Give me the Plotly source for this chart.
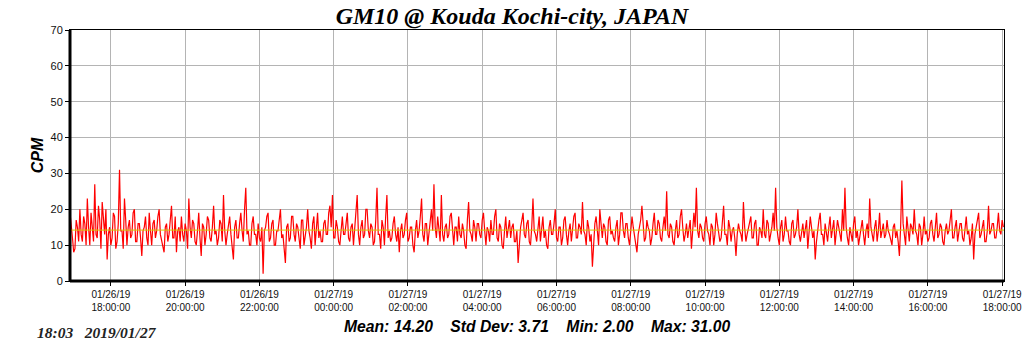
import pandas as pd
import plotly.graph_objects as go

TITLE = "GM10 @ Kouda Kochi-city, JAPAN"
START = "2019-01-26 16:54"
STEP = "2min"
cpm = [
    19,14,12,8,9,17,15,11,20,13,11,18,16,10,23,15,10,19,14,11,27,13,12,21,17,9,22,16,13,20,
    6,13,15,10,12,19,18,9,11,16,31,14,14,9,23,17,10,15,17,12,13,19,20,11,11,16,16,12,7,14,
    15,18,12,10,19,14,10,16,17,12,14,18,20,13,11,9,8,15,16,11,13,17,21,12,12,18,8,14,15,11,
    18,13,11,16,14,9,23,15,12,17,16,11,10,14,19,12,7,16,15,10,13,18,17,12,11,15,21,13,14,10,
    12,17,16,11,24,14,10,13,15,18,13,9,6,15,17,12,12,16,19,14,11,20,26,13,14,10,10,16,18,13,
    13,10,16,12,11,15,2,14,15,18,19,11,12,16,17,10,10,14,14,17,20,12,13,9,5,15,16,11,12,18,
    18,13,11,16,15,12,9,17,17,10,13,15,20,14,12,9,16,18,10,14,19,12,14,11,11,16,17,13,13,19,
    21,15,24,12,12,17,15,11,10,14,18,13,13,16,19,12,11,15,16,10,14,18,24,13,10,15,17,12,13,20,
    20,14,12,16,15,10,11,17,26,13,13,9,17,15,10,18,24,12,14,11,12,16,18,13,11,15,8,14,16,12,
    13,17,19,11,12,15,15,10,8,14,17,12,14,18,23,13,11,16,16,10,13,17,20,14,27,15,12,18,15,11,
    24,13,11,15,16,12,13,18,19,14,10,15,15,11,18,13,12,16,14,10,9,17,22,14,13,11,17,15,11,16,
    16,13,12,17,19,14,10,15,14,11,17,13,13,18,20,12,11,16,15,10,9,14,18,12,14,17,12,15,16,11,
    11,14,5,12,15,17,19,13,12,16,17,11,10,15,23,14,13,11,16,18,11,14,18,12,14,10,9,15,17,13,
    13,16,20,12,11,15,15,10,12,17,18,13,10,14,16,11,14,18,19,12,12,16,15,13,22,14,13,10,17,15,
    11,13,4,12,16,18,13,10,20,15,12,16,15,11,10,17,18,13,14,12,11,15,17,10,13,19,19,14,12,16,
    16,12,10,14,18,15,13,11,8,13,15,17,21,14,11,12,17,15,14,10,12,16,19,13,13,17,16,12,11,15,
    18,14,25,13,12,16,15,11,10,14,17,12,13,18,20,15,11,13,16,12,14,17,9,13,19,15,26,14,12,16,
    15,12,11,16,18,14,13,10,16,15,10,13,19,16,14,11,12,17,21,13,13,10,17,15,11,14,15,12,7,13,
    16,14,13,11,22,15,11,13,15,17,18,12,12,16,17,10,10,15,14,12,20,13,12,17,16,11,13,15,19,14,
    26,15,12,10,15,17,11,13,18,14,14,11,10,16,17,12,13,15,20,13,11,14,16,12,14,17,9,13,18,15,
    12,14,6,11,15,17,19,13,13,10,16,14,11,15,18,12,14,17,10,13,17,15,13,11,20,14,26,15,12,10,
    15,13,11,16,18,12,14,10,12,15,17,13,10,14,16,12,23,15,13,11,15,17,11,14,19,12,14,16,12,13,
    17,14,13,11,10,15,16,12,14,11,7,15,28,16,12,10,18,14,11,16,15,13,20,14,13,10,16,15,10,13,
    18,13,14,11,12,16,17,13,11,15,19,12,13,16,15,11,10,14,16,13,14,17,20,12,12,15,17,11,13,16,
    16,12,11,15,18,13,14,10,12,16,6,13,15,17,19,12,13,15,17,11,11,14,21,13,14,16,16,12,12,15,
    19,14,13,17,15,
]
MEAN = 14.20
STD = 3.71
MIN = 2.00
MAX = 31.00
STAMP = "18:03   2019/01/27"
X_RANGE = ["2019-01-26 16:54", "2019-01-27 18:03"]
Y_RANGE = [0, 70]

times = pd.date_range(START, periods=len(cpm), freq=STEP)

fig = go.Figure()
fig.add_trace(go.Scatter(x=times, y=cpm, mode="lines",
                         line=dict(color="#ff0000", width=1.2), hoverinfo="skip"))
fig.add_trace(go.Scatter(x=X_RANGE, y=[MEAN, MEAN], mode="lines",
                         line=dict(color="#d8c400", width=1), hoverinfo="skip"))

fig.update_layout(
    width=1024, height=351,
    margin=dict(l=70, r=20, t=30, b=70, autoexpand=False),
    paper_bgcolor="white", plot_bgcolor="white",
    showlegend=False,
    title=dict(text="<b><i>" + TITLE + "</i></b>", x=0.5, xanchor="center",
               y=0.955, yanchor="middle",
               font=dict(family="Liberation Serif", size=24, color="black")),
    xaxis=dict(type="date", range=X_RANGE, dtick=7200000, tick0="2019-01-26 18:00",
               tickformat="%m/%d/%y<br>%H:%M:%S", ticks="outside", ticklen=4,
               tickcolor="black", showgrid=True, gridcolor="#b4b4b4", gridwidth=1,
               showline=True, linecolor="black", linewidth=1, mirror=True,
               automargin=False,
               tickfont=dict(family="Liberation Sans", size=10, color="#111")),
    yaxis=dict(range=Y_RANGE, dtick=10, ticks="outside", ticklen=4, tickcolor="black",
               showgrid=True, gridcolor="#b4b4b4", gridwidth=1,
               showline=True, linecolor="black", linewidth=1, mirror=True,
               zeroline=False, automargin=False,
               tickfont=dict(family="Liberation Sans", size=11, color="#111"),
               title=dict(text="<b><i>CPM</i></b>", standoff=2,
                          font=dict(family="Liberation Sans", size=16, color="black"))),
)

# thicker left and bottom frame lines
fig.add_shape(type="line", xref="paper", yref="paper", x0=0, x1=0, y0=0, y1=1,
              line=dict(color="black", width=3))
fig.add_shape(type="line", xref="paper", yref="paper", x0=0, x1=1, y0=0, y1=0,
              line=dict(color="black", width=3))

stats = "Mean: %.2f    Std Dev: %.2f    Min: %.2f    Max: %.2f" % (MEAN, STD, MIN, MAX)
fig.add_annotation(text="<b><i>" + stats.replace("    ", "&nbsp;&nbsp;&nbsp;&nbsp;") + "</i></b>",
                   xref="paper", yref="paper",
                   x=0.5, y=-0.18, xanchor="center", yanchor="middle", showarrow=False,
                   font=dict(family="Liberation Sans", size=15.7, color="black"))
fig.add_annotation(text="<b><i>" + STAMP.replace(" ", "&nbsp;") + "</i></b>",
                   xref="paper", yref="paper",
                   x=-0.0375, y=-0.205, xanchor="left", yanchor="middle", showarrow=False,
                   font=dict(family="Liberation Serif", size=15.5, color="#222"))

fig.write_html("out.html")
